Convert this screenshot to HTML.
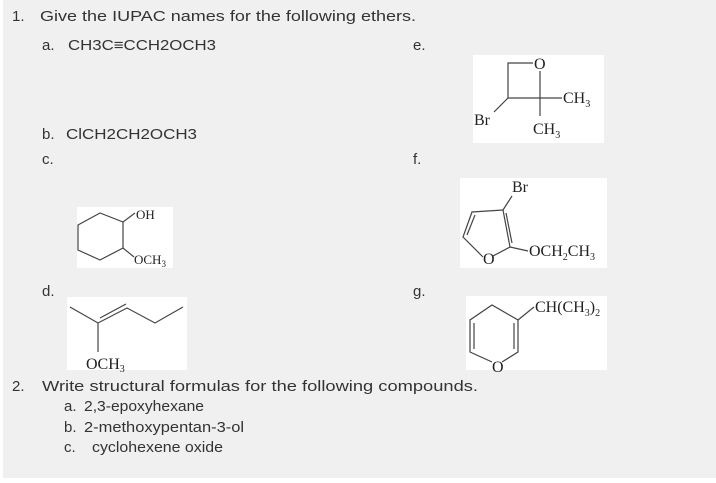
<!DOCTYPE html>
<html><head><meta charset="utf-8"><style>
html,body{margin:0;padding:0;background:#fff;}
svg{display:block;}
.t{font-family:"Liberation Sans",sans-serif;font-size:15px;fill:#333;}
.s{font-family:"Liberation Serif",serif;font-size:16px;fill:#222;}
.ss{font-family:"Liberation Serif",serif;font-size:10px;fill:#222;}
line,polyline,polygon{stroke:#444;stroke-width:1.2;fill:none;}
</style></head><body>
<svg width="716" height="483" viewBox="0 0 716 483">
<rect x="3" y="0" width="713" height="478" fill="#f0f0f0"/>
<text class="t" x="12" y="21">1.</text>
<text class="t" x="40" y="21" textLength="376" lengthAdjust="spacingAndGlyphs">Give the IUPAC names for the following ethers.</text>
<text class="t" x="42" y="50">a.</text>
<text class="t" x="68" y="50" textLength="148" lengthAdjust="spacingAndGlyphs">CH3C≡CCH2OCH3</text>
<text class="t" x="413" y="50">e.</text>
<text class="t" x="42" y="139">b.</text>
<text class="t" x="66" y="139" textLength="131" lengthAdjust="spacingAndGlyphs">ClCH2CH2OCH3</text>
<text class="t" x="42" y="164">c.</text>
<text class="t" x="413" y="164">f.</text>
<text class="t" x="42" y="296">d.</text>
<text class="t" x="413" y="296">g.</text>
<text class="t" x="12" y="391">2.</text>
<text class="t" x="42" y="391" textLength="436" lengthAdjust="spacingAndGlyphs">Write structural formulas for the following compounds.</text>
<text class="t" x="64" y="411">a.</text>
<text class="t" x="84" y="411" textLength="120" lengthAdjust="spacingAndGlyphs">2,3-epoxyhexane</text>
<text class="t" x="64" y="432">b.</text>
<text class="t" x="84" y="432" textLength="160" lengthAdjust="spacingAndGlyphs">2-methoxypentan-3-ol</text>
<text class="t" x="64" y="452">c.</text>
<text class="t" x="92" y="452" textLength="131" lengthAdjust="spacingAndGlyphs">cyclohexene oxide</text>

<!-- e -->
<rect x="473" y="55" width="131" height="88" fill="#fff"/>
<polyline points="533,63 508,63 508,98 540,98 540,71"/>
<text class="s" x="534" y="69">O</text>
<line x1="508" y1="98" x2="494" y2="112"/>
<text class="s" x="474" y="125">Br</text>
<line x1="540" y1="98" x2="562" y2="98"/>
<text class="s" x="563" y="103">CH<tspan class="ss" dy="4">3</tspan></text>
<line x1="540" y1="98" x2="540" y2="116"/>
<text class="s" x="533" y="134">CH<tspan class="ss" dy="4">3</tspan></text>

<!-- f -->
<rect x="460" y="178" width="147" height="90" fill="#fff"/>
<text class="s" x="512" y="192">Br</text>
<line x1="503" y1="210" x2="512" y2="196"/>
<polyline points="483,257 463,237 472,212 503,210 510,247 493,256"/>
<line x1="467" y1="235" x2="475" y2="215"/>
<line x1="506" y1="213" x2="512" y2="243"/>
<text class="s" x="483" y="264">O</text>
<line x1="510" y1="247" x2="528" y2="251"/>
<text class="s" x="529" y="256">OCH<tspan class="ss" dy="4">2</tspan><tspan dy="-4">CH</tspan><tspan class="ss" dy="4">3</tspan></text>

<!-- g -->
<rect x="466" y="296" width="141" height="74" fill="#fff"/>
<polyline points="492,362 470,352 470,320 492,305 518,320 518,352 502,362"/>
<line x1="474" y1="323" x2="474" y2="349"/>
<line x1="514" y1="323" x2="514" y2="349"/>
<line x1="518" y1="320" x2="534" y2="307"/>
<text class="s" x="492" y="372">O</text>
<text class="s" x="535" y="312">CH(CH<tspan class="ss" dy="4">3</tspan><tspan dy="-4">)</tspan><tspan class="ss" dy="4">2</tspan></text>

<!-- c -->
<rect x="77" y="207" width="96" height="61" fill="#fff"/>
<polygon points="78,225 100,213 123,222 123,248 100,260 78,250"/>
<line x1="123" y1="222" x2="135" y2="213"/>
<text class="s" x="136" y="219" style="font-size:13px">OH</text>
<line x1="123" y1="248" x2="134" y2="257"/>
<text class="s" x="134" y="264" style="font-size:13px">OCH<tspan class="ss" dy="3" style="font-size:9px">3</tspan></text>

<!-- d -->
<rect x="67" y="297" width="120" height="73" fill="#fff"/>
<polyline points="70,307 98,323 127,308 155,323 183,307"/>
<line x1="100" y1="318" x2="126" y2="304"/>
<line x1="98" y1="323" x2="98" y2="352"/>
<text class="s" x="86" y="369" style="font-size:16px">OCH<tspan class="ss" dy="3">3</tspan></text>
</svg>
</body></html>
